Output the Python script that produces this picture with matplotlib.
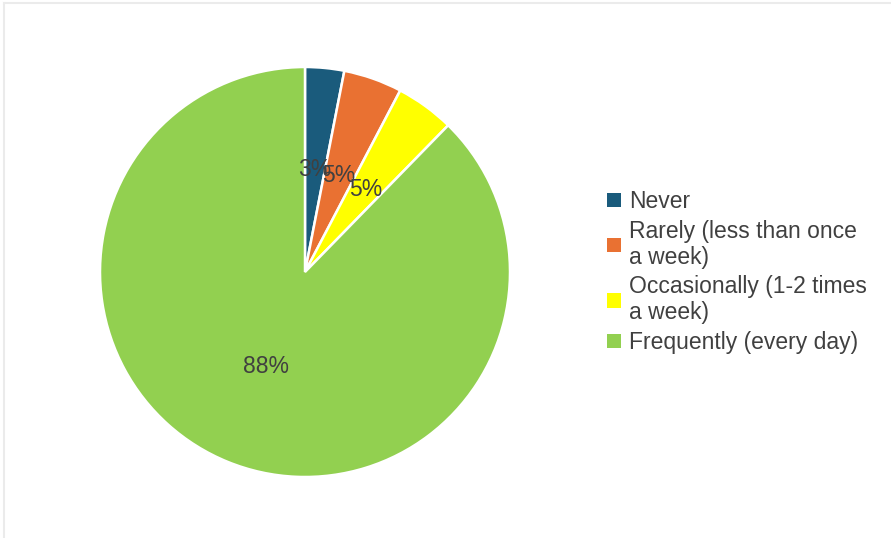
import matplotlib
matplotlib.use("Agg")
import matplotlib.pyplot as plt
from matplotlib.patches import Patch
from matplotlib.lines import Line2D

categories = ["Never", "Rarely (less than once\na week)", "Occasionally (1-2 times\na week)", "Frequently (every day)"]
counts = [2, 3, 3, 57]
colors = ["#1a5b7c", "#e97132", "#ffff00", "#92d050"]

plt.rcParams['font.family'] = ['Liberation Sans', 'DejaVu Sans']

fig = plt.figure(figsize=(8.91, 5.38), dpi=100)
W, H = 891, 538
cx, cy, r = 305, 272, 205
ax = fig.add_axes([(cx - r) / W, (H - cy - r) / H, 2 * r / W, 2 * r / H])

wedges, texts, autotexts = ax.pie(
    counts, colors=colors, startangle=90, counterclock=False,
    autopct=lambda p: f"{p:.0f}%", pctdistance=0.5,
    wedgeprops=dict(edgecolor="white", linewidth=1.8),
    textprops=dict(color="#404040", fontsize=16.5))
ax.set_xlim(-1, 1)
ax.set_ylim(-1, 1)
ax.set_aspect('equal')

handles = [Patch(facecolor=c, edgecolor='none') for c in colors]
leg = fig.legend(handles, categories, loc='center left',
                 bbox_to_anchor=(607 / W, 1 - 272 / H), frameon=False,
                 fontsize=16.5, handlelength=0.6, handleheight=0.6,
                 handletextpad=0.35, labelspacing=0.3, borderpad=0, borderaxespad=0)
for t in leg.get_texts():
    t.set_color("#404040")
    t.set_linespacing(1.15)

# light border of the screenshot frame
fig.add_artist(Line2D([4 / W, 1], [1 - 3 / H, 1 - 3 / H], color="#ebebeb", lw=1.5, transform=fig.transFigure))
fig.add_artist(Line2D([4 / W, 4 / W], [0, 1 - 3 / H], color="#ebebeb", lw=1.5, transform=fig.transFigure))

fig.savefig("out.png", dpi=100, facecolor="white")
